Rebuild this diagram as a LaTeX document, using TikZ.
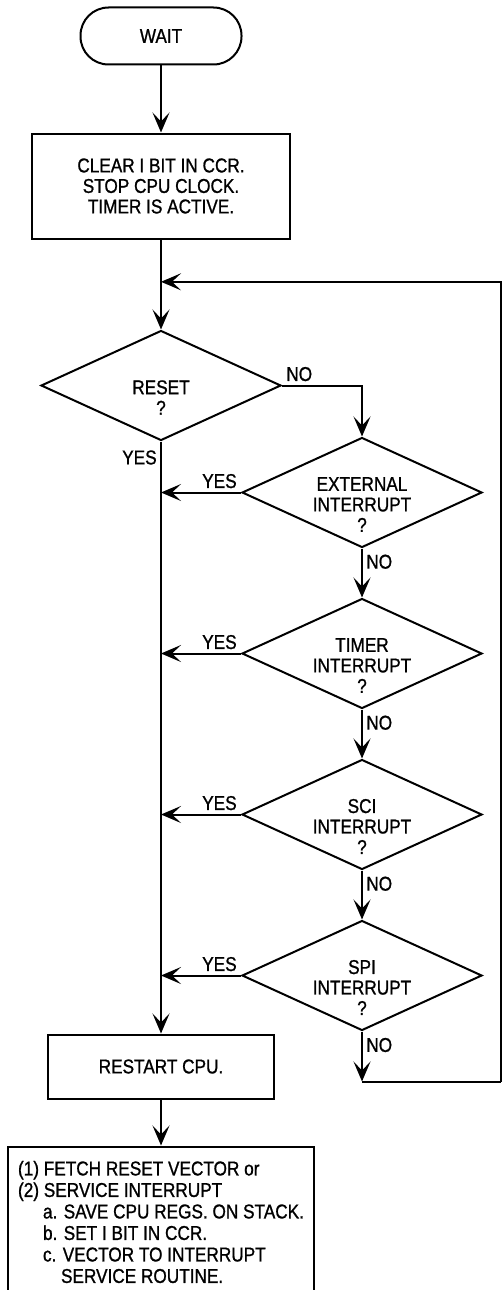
\documentclass[tikz,border=0pt]{standalone}
\usepackage{fontspec}
\setmainfont{Liberation Sans}[FakeStretch=0.86, FakeBold=1]
\usetikzlibrary{positioning, shapes.geometric, calc, arrows.meta}

\begin{document}
\begin{tikzpicture}[node distance=49pt, line width=2pt, font=\fontsize{20}{20.5}\selectfont,
    >={Stealth[length=20pt, width=17pt, inset=9pt]}]
  \tikzstyle{box}=[draw, align=center, inner sep=0pt]
  \tikzstyle{decision}=[draw, diamond, minimum width=240pt, minimum height=110pt, inner sep=0pt]
  \tikzstyle{qtext}=[align=center, yshift=-12pt]
  \useasboundingbox (0,0) rectangle (502pt,-1290pt);

  \node[box, rounded corners=28pt, minimum width=161pt, minimum height=57pt] (wait) at (161pt,-36pt) {WAIT};
  \node[box, below=67pt of wait, minimum width=258pt, minimum height=105pt] (clear) {CLEAR I BIT IN CCR.\\STOP CPU CLOCK.\\TIMER IS ACTIVE.};
  \node[decision, below=90pt of clear, label={[qtext]center:{RESET\\?}}] (reset) {};
  \node[decision, below=-5pt of reset, xshift=201pt, label={[qtext]center:{EXTERNAL\\INTERRUPT\\?}}] (ext) {};
  \node[decision, below=of ext, label={[qtext]center:{TIMER\\INTERRUPT\\?}}] (timer) {};
  \node[decision, below=of timer, label={[qtext]center:{SCI\\INTERRUPT\\?}}] (sci) {};
  \node[decision, below=of sci, label={[qtext]center:{SPI\\INTERRUPT\\?}}] (spi) {};
  \node[box, below=592pt of reset, minimum width=226pt, minimum height=64pt] (restart) {RESTART CPU.};
  \node[box, below=46pt of restart, minimum width=306pt, minimum height=151pt, align=left, font=\fontsize{20}{21.5}\selectfont] (vector)
    {(1) FETCH RESET VECTOR or\\(2) SERVICE INTERRUPT\\\hspace*{25pt}a. SAVE CPU REGS. ON STACK.\\\hspace*{25pt}b. SET I BIT IN CCR.\\\hspace*{25pt}c. VECTOR TO INTERRUPT\\\hspace*{43pt}SERVICE ROUTINE.};

  % loop back to the reset test
  \coordinate (edge) at (501pt,0);
  \coordinate[below=50pt of spi] (loopa);
  \coordinate (loopb) at (loopa -| edge);
  \coordinate (merge) at ($(clear.south)!0.47!(reset.north)$);

  \draw[->] (wait) -- (clear);
  \draw[->] (clear) -- (reset);
  \draw[->] (reset.east) -| node[above right, pos=0] {NO} (ext.north);
  \draw[->] (reset) -- node[left, pos=0.027] {YES} (restart);
  \draw[->] (ext) -- node[right, pos=0.27] {NO} (timer);
  \draw[->] (timer) -- node[right, pos=0.27] {NO} (sci);
  \draw[->] (sci) -- node[right, pos=0.27] {NO} (spi);
  \draw[->] (spi) -- node[right, pos=0.27] {NO} (loopa);
  \draw (loopa) -- (loopb);
  \draw[->] (loopb) |- (merge);
  \foreach \d in {ext, timer, sci, spi}
    \draw[->] (\d.west) -- node[above left, pos=0] {YES} (\d -| reset);
  \draw[->] (restart) -- (vector);
\end{tikzpicture}
\end{document}
